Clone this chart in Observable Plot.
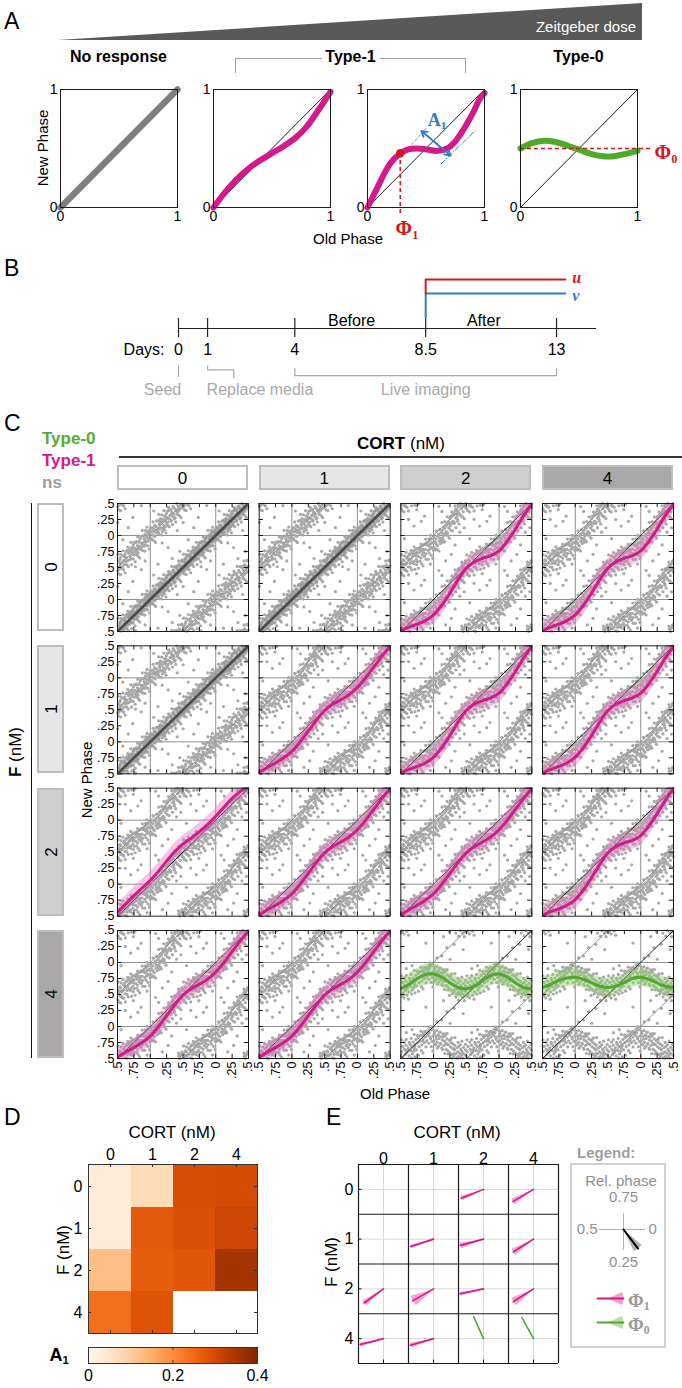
<!DOCTYPE html>
<html>
<head>
<meta charset="utf-8">
<script src="https://cdn.jsdelivr.net/npm/d3@7"></script>
<script src="https://cdn.jsdelivr.net/npm/@observablehq/plot@0.6"></script>
<style>
  html, body { margin: 0; padding: 0; background: #fff; }
  #root { position: relative; width: 682px; height: 1388px; overflow: hidden; font-family: 'Liberation Sans', Arial, Helvetica, sans-serif; color: #000; background: #fff; }
  #root > svg { position: absolute; overflow: visible; }
  .t { position: absolute; white-space: nowrap; line-height: 1; }
  .t sub { font-size: 0.62em; vertical-align: -0.3em; line-height: 0; }
</style>
</head>
<body>
<div id="root"></div>
<script>
// ================= DATA =================
// ---- Panel A (schematic phase transition curves) ----
const aDose = [0, 1];
const aAxisTicks = [0, 1];
const aIdentity = [[0, 0], [1, 1]];
const aNoResponse = [[0, 0], [1, 1]];
const aType1Weak = [[0,0],[0.1,0.13],[0.2,0.24],[0.3,0.33],[0.4,0.4],[0.5,0.46],[0.6,0.52],[0.7,0.59],[0.8,0.69],[0.9,0.83],[1,0.98]];
const aType1Strong = [[0,0],[0.05,0.1],[0.1,0.2],[0.15,0.3],[0.2,0.38],[0.27,0.45],[0.34,0.49],[0.42,0.5],[0.52,0.49],[0.6,0.48],[0.68,0.5],[0.75,0.56],[0.82,0.66],[0.9,0.8],[0.96,0.92],[1,0.97]];
const aType0 = [[0,0.5],[0.1,0.545],[0.2,0.565],[0.3,0.555],[0.4,0.525],[0.5,0.49],[0.6,0.455],[0.7,0.435],[0.8,0.435],[0.9,0.455],[1,0.48]];
const aPhi1 = [0.28, 0.46];
const aPhi0 = 0.5;
const aA1Arrow = [[0.46, 0.65], [0.71, 0.44]];
const aA1Upper = [[0.32, 0.47], [0.5, 0.67]];
const aA1Lower = [[0.63, 0.37], [0.92, 0.65]];

// ---- Panel B (protocol timeline, days) ----
const bDays = [0, 1, 4, 8.5, 13];
const bTreatment = {start: 8.5, end: 13.3};
const bStages = [{label: "Before", at: 5.95}, {label: "After", at: 10.5}];
const bEvents = [{label: "Seed", from: 0, to: 0}, {label: "Replace media", from: 1, to: 1.9}, {label: "Live imaging", from: 4, to: 13}];

// ---- Panel C (phase transition scatter, old vs new phase) ----
const cCort = [0, 1, 2, 4];
const cF = [0, 1, 2, 4];
const cType = [
  ["ns", "ns", "type1", "type1"],
  ["ns", "type1", "type1", "type1"],
  ["type1", "type1", "type1", "type1"],
  ["type1", "type1", "type0", "type0"]
];
const cFitName = [
  ["ns", "ns", "t1Strong", "t1Strong"],
  ["ns", "t1Medium", "t1Strong", "t1Strong"],
  ["t1Gentle", "t1Medium", "t1Medium", "t1Strong"],
  ["t1Medium", "t1Medium", "t0Wide", "t0Narrow"]
];
const cPhaseTicks = [-0.5, -0.25, 0, 0.25, 0.5, 0.75, 1, 1.25, 1.5];
const cPhaseTickLabels = [".5", ".75", "0", ".25", ".5", ".75", "0", ".25", ".5"];
const cGrid = [0, 1];
const cWraps = [-1, 0, 1];
// fitted curves: [old phase, new phase, half band width]
const cFitNs = [[-0.5,-0.5,0.13],[0,0,0.13],[0.5,0.5,0.13],[1,1,0.13],[1.5,1.5,0.13]];
const cFitT1Strong = [[-0.5,-0.49,0.14],[-0.375,-0.43,0.14],[-0.25,-0.385,0.14],[-0.125,-0.33,0.14],[0,-0.24,0.15],[0.125,-0.09,0.15],[0.25,0.1,0.15],[0.375,0.31,0.15],[0.5,0.49,0.14],[0.625,0.59,0.14],[0.75,0.645,0.14],[0.875,0.685,0.14],[1,0.76,0.15],[1.125,0.91,0.15],[1.25,1.1,0.15],[1.375,1.31,0.15],[1.5,1.49,0.14]];
const cFitT1Medium = [[-0.5,-0.48,0.14],[-0.375,-0.4,0.14],[-0.25,-0.33,0.14],[-0.125,-0.25,0.14],[0,-0.15,0.14],[0.125,0,0.14],[0.25,0.17,0.14],[0.375,0.34,0.14],[0.5,0.49,0.14],[0.625,0.59,0.14],[0.75,0.66,0.14],[0.875,0.74,0.14],[1,0.85,0.14],[1.125,1,0.14],[1.25,1.17,0.14],[1.375,1.34,0.14],[1.5,1.49,0.14]];
const cFitT1Gentle = [[-0.5,-0.44,0.13],[-0.375,-0.31,0.13],[-0.25,-0.18,0.13],[-0.125,-0.06,0.13],[0,0.06,0.13],[0.125,0.2,0.13],[0.25,0.36,0.13],[0.375,0.51,0.13],[0.5,0.63,0.13],[0.625,0.72,0.13],[0.75,0.82,0.13],[0.875,0.93,0.13],[1,1.06,0.13],[1.125,1.2,0.13],[1.25,1.34,0.13],[1.375,1.45,0.13],[1.5,1.52,0.13]];
const cFitT0Wide = [[-0.5,0.59,0.16],[-0.375,0.66,0.16],[-0.25,0.75,0.16],[-0.125,0.81,0.16],[0,0.82,0.16],[0.125,0.77,0.16],[0.25,0.68,0.16],[0.375,0.61,0.16],[0.5,0.59,0.16],[0.625,0.63,0.16],[0.75,0.72,0.16],[0.875,0.8,0.16],[1,0.82,0.16],[1.125,0.77,0.16],[1.25,0.68,0.16],[1.375,0.61,0.16],[1.5,0.59,0.16]];
const cFitT0Narrow = [[-0.5,0.61,0.14],[-0.375,0.66,0.14],[-0.25,0.72,0.14],[-0.125,0.76,0.14],[0,0.77,0.14],[0.125,0.74,0.14],[0.25,0.68,0.14],[0.375,0.63,0.14],[0.5,0.61,0.14],[0.625,0.63,0.14],[0.75,0.69,0.14],[0.875,0.75,0.14],[1,0.77,0.14],[1.125,0.74,0.14],[1.25,0.68,0.14],[1.375,0.63,0.14],[1.5,0.61,0.14]];
// single-cell observations [old phase, new phase] within one cycle (core cloud + wider scatter)
const cPointsNs = [[0.013,0.062],[0.021,0.952],[0.034,0.118],[0.048,0.003],[0.052,0.071],[0.067,0.158],[0.071,0.984],[0.088,0.041],[0.094,0.137],[0.103,0.085],
[0.117,0.232],[0.124,0.049],[0.139,0.171],[0.142,0.102],[0.156,0.263],[0.163,0.121],[0.178,0.208],[0.185,0.064],[0.197,0.247],[0.204,0.159],
[0.216,0.302],[0.228,0.133],[0.231,0.224],[0.245,0.341],[0.252,0.188],[0.266,0.275],[0.273,0.211],[0.284,0.392],[0.297,0.258],[0.303,0.318],
[0.318,0.403],[0.322,0.226],[0.335,0.352],[0.347,0.297],[0.351,0.455],[0.364,0.331],[0.376,0.418],[0.382,0.276],[0.395,0.384],[0.402,0.497],
[0.415,0.352],[0.423,0.459],[0.436,0.391],[0.441,0.541],[0.458,0.417],[0.462,0.486],[0.477,0.602],[0.483,0.433],[0.496,0.521],[0.504,0.448],
[0.517,0.588],[0.526,0.471],[0.538,0.553],[0.544,0.652],[0.559,0.506],[0.563,0.577],[0.578,0.519],[0.585,0.683],[0.597,0.611],[0.606,0.548],
[0.613,0.704],[0.627,0.592],[0.634,0.658],[0.648,0.763],[0.652,0.604],[0.669,0.722],[0.671,0.617],[0.686,0.751],[0.693,0.672],[0.708,0.806],
[0.714,0.641],[0.729,0.773],[0.736,0.705],[0.742,0.858],[0.757,0.697],[0.763,0.802],[0.778,0.741],[0.784,0.903],[0.799,0.768],[0.805,0.842],
[0.816,0.729],[0.829,0.911],[0.833,0.806],[0.847,0.953],[0.852,0.782],[0.868,0.884],[0.874,0.826],[0.887,0.991],[0.893,0.857],[0.906,0.944],
[0.912,0.835],[0.925,0.027],[0.938,0.902],[0.943,0.978],[0.957,0.061],[0.962,0.913],[0.976,0.016],[0.983,0.944],[0.991,0.083],[0.997,0.969],
[0.061,0.093],[0.146,0.197],[0.238,0.262],[0.329,0.366],[0.427,0.404],[0.532,0.511],[0.621,0.648],[0.719,0.733],[0.811,0.795],[0.918,0.901],
[0.118,0.552],[0.273,0.812],[0.412,0.078],[0.581,0.934],[0.734,0.283],[0.862,0.467],[0.052,0.383],[0.338,0.641],[0.664,0.122],[0.921,0.603],[0.183,0.884],[0.503,0.204],[0.452,0.752],[0.775,0.512]];
const cPointsNsWide = [[0.009,0.119],[0.027,0.937],[0.043,0.213],[0.058,0.918],[0.076,0.146],[0.082,0.892],[0.097,0.227],[0.111,0.061],[0.129,0.329],[0.135,0.015],
[0.151,0.241],[0.169,0.009],[0.174,0.324],[0.192,0.112],[0.208,0.388],[0.219,0.089],[0.236,0.296],[0.241,0.041],[0.258,0.378],[0.262,0.162],
[0.279,0.439],[0.288,0.138],[0.306,0.406],[0.313,0.243],[0.327,0.517],[0.339,0.169],[0.356,0.436],[0.368,0.258],[0.373,0.513],[0.389,0.209],
[0.407,0.517],[0.418,0.328],[0.432,0.602],[0.447,0.307],[0.453,0.523],[0.469,0.279],[0.486,0.616],[0.492,0.442],[0.508,0.708],[0.521,0.401],
[0.536,0.626],[0.548,0.388],[0.553,0.703],[0.567,0.487],[0.582,0.762],[0.594,0.464],[0.608,0.668],[0.618,0.418],[0.631,0.751],[0.643,0.543],
[0.657,0.817],[0.664,0.514],[0.681,0.781],[0.697,0.627],[0.703,0.893],[0.716,0.546],[0.733,0.813],[0.741,0.631],[0.752,0.892],[0.769,0.589],
[0.781,0.891],[0.792,0.702],[0.808,0.978],[0.815,0.675],[0.826,0.896],[0.839,0.649],[0.856,0.986],[0.863,0.813],[0.879,0.079],[0.884,0.764],
[0.903,0.993],[0.917,0.757],[0.929,0.079],[0.934,0.854],[0.951,0.131],[0.966,0.836],[0.978,0.038],[0.989,0.789]];
const cPointsT1 = [[0.008,0.812],[0.017,0.903],[0.026,0.774],[0.039,0.945],[0.044,0.861],[0.058,0.992],[0.063,0.838],[0.079,0.021],[0.085,0.912],[0.092,0.963],
[0.106,0.874],[0.113,0.046],[0.128,0.957],[0.134,0.081],[0.147,0.993],[0.151,0.928],[0.166,0.112],[0.172,0.027],[0.187,0.148],[0.193,0.061],
[0.205,0.172],[0.214,0.042],[0.226,0.213],[0.233,0.118],[0.248,0.264],[0.255,0.151],[0.262,0.297],[0.279,0.192],[0.286,0.318],[0.294,0.224],
[0.307,0.331],[0.315,0.208],[0.329,0.382],[0.336,0.276],[0.341,0.412],[0.358,0.301],[0.363,0.254],[0.374,0.447],[0.386,0.352],[0.398,0.468],
[0.404,0.327],[0.417,0.493],[0.422,0.418],[0.435,0.536],[0.446,0.451],[0.453,0.372],[0.461,0.548],[0.478,0.462],[0.485,0.577],[0.492,0.497],
[0.507,0.418],[0.514,0.563],[0.523,0.508],[0.537,0.621],[0.546,0.472],[0.551,0.604],[0.565,0.539],[0.572,0.458],[0.588,0.651],[0.593,0.566],
[0.608,0.677],[0.616,0.512],[0.624,0.608],[0.639,0.703],[0.645,0.563],[0.657,0.634],[0.668,0.741],[0.676,0.585],[0.683,0.672],[0.699,0.759],
[0.704,0.597],[0.718,0.693],[0.727,0.782],[0.735,0.628],[0.748,0.717],[0.753,0.592],[0.769,0.796],[0.774,0.671],[0.786,0.738],[0.795,0.823],
[0.806,0.648],[0.813,0.762],[0.827,0.701],[0.832,0.847],[0.845,0.734],[0.858,0.672],[0.864,0.868],[0.876,0.783],[0.883,0.718],[0.897,0.852],
[0.904,0.891],[0.918,0.764],[0.923,0.838],[0.936,0.922],[0.945,0.791],[0.953,0.873],[0.967,0.946],[0.972,0.812],[0.984,0.884],[0.996,0.768],
[0.031,0.884],[0.142,0.027],[0.241,0.186],[0.352,0.337],[0.447,0.487],[0.538,0.551],[0.647,0.621],[0.738,0.681],[0.846,0.778],[0.942,0.836],
[0.082,0.453],[0.184,0.602],[0.327,0.853],[0.468,0.121],[0.618,0.251],[0.742,0.403],[0.861,0.302],[0.951,0.553],[0.272,0.704],[0.553,0.951],[0.401,0.052],[0.702,0.148],[0.128,0.376],[0.812,0.221]];
const cPointsT1Wide = [[0.009,0.971],[0.043,0.072],[0.076,0.011],[0.097,0.096],[0.129,0.205],[0.151,0.125],[0.174,0.217],[0.208,0.293],[0.236,0.211],[0.258,0.301],
[0.279,0.369],[0.306,0.346],[0.327,0.465],[0.356,0.394],[0.373,0.477],[0.407,0.494],[0.432,0.583],[0.453,0.501],[0.486,0.603],[0.508,0.696],
[0.536,0.609],[0.553,0.682],[0.582,0.736],[0.608,0.636],[0.631,0.713],[0.657,0.767],[0.681,0.721],[0.703,0.824],[0.733,0.73],[0.752,0.801],
[0.781,0.79],[0.808,0.867],[0.826,0.779],[0.856,0.857],[0.879,0.944],[0.903,0.86],[0.929,0.949],[0.951,0.003],[0.978,0.891],
[0.027,0.792],[0.058,0.779],[0.082,0.758],[0.111,0.933],[0.135,0.894],[0.169,0.901],[0.192,0.011],[0.219,0.998],[0.241,0.958],[0.262,0.086],
[0.288,0.072],[0.313,0.188],[0.339,0.123],[0.368,0.223],[0.389,0.18],[0.418,0.308],[0.447,0.286],[0.469,0.262],[0.492,0.431],[0.521,0.387],
[0.548,0.368],[0.567,0.464],[0.594,0.441],[0.618,0.384],[0.643,0.503],[0.664,0.464],[0.697,0.562],[0.716,0.471],[0.741,0.545],[0.769,0.491],
[0.792,0.598],[0.815,0.561],[0.839,0.526],[0.863,0.682],[0.884,0.628],[0.917,0.627],[0.934,0.725],[0.966,0.69],[0.989,0.64]];
const cPointsT0 = [[0.006,0.774],[0.014,0.893],[0.027,0.712],[0.035,0.846],[0.049,0.934],[0.056,0.752],[0.068,0.867],[0.077,0.693],[0.083,0.811],[0.098,0.912],
[0.104,0.736],[0.119,0.842],[0.126,0.664],[0.133,0.791],[0.148,0.887],[0.157,0.703],[0.164,0.771],[0.176,0.852],[0.189,0.642],[0.195,0.738],
[0.207,0.806],[0.218,0.621],[0.224,0.716],[0.239,0.782],[0.246,0.587],[0.258,0.682],[0.267,0.749],[0.275,0.563],[0.289,0.659],[0.296,0.728],
[0.308,0.541],[0.317,0.634],[0.325,0.706],[0.339,0.574],[0.348,0.512],[0.356,0.668],[0.367,0.603],[0.379,0.532],[0.385,0.688],[0.394,0.584],
[0.408,0.496],[0.416,0.642],[0.427,0.553],[0.433,0.617],[0.449,0.508],[0.457,0.674],[0.466,0.572],[0.474,0.482],[0.488,0.636],[0.495,0.547],
[0.512,0.608],[0.526,0.689],[0.534,0.514],[0.557,0.646],[0.568,0.563],[0.579,0.708],[0.596,0.594],[0.613,0.667],[0.624,0.541],[0.638,0.726],
[0.651,0.622],[0.664,0.693],[0.677,0.571],[0.689,0.758],[0.703,0.653],[0.716,0.717],[0.728,0.798],[0.739,0.636],[0.757,0.744],[0.768,0.827],
[0.779,0.684],[0.796,0.771],[0.808,0.866],[0.821,0.712],[0.838,0.803],[0.847,0.892],[0.859,0.748],[0.876,0.834],[0.887,0.923],[0.898,0.776],
[0.914,0.864],[0.927,0.738],[0.936,0.903],[0.955,0.808],[0.967,0.948],[0.979,0.767],[0.992,0.853],
[0.043,0.803],[0.186,0.724],[0.314,0.647],[0.443,0.584],[0.582,0.612],[0.712,0.694],[0.836,0.774],[0.948,0.836],
[0.051,0.072],[0.124,0.103],[0.203,0.232],[0.313,0.284],[0.384,0.412],[0.521,0.493],[0.604,0.632],[0.712,0.687],[0.831,0.862],[0.909,0.884],
[0.152,0.403],[0.451,0.202],[0.672,0.951],[0.882,0.303],[0.253,0.051],[0.583,0.904]];
const cPointsT0Wide = [[0.009,0.93],[0.027,0.72],[0.058,0.66],[0.076,0.86],[0.097,0.91],[0.111,0.725],[0.135,0.643],[0.151,0.841],[0.169,0.578],[0.174,0.885],
[0.208,0.89],[0.219,0.572],[0.241,0.486],[0.258,0.796],[0.279,0.824],[0.288,0.509],[0.313,0.575],[0.327,0.827],[0.339,0.46],[0.368,0.504],
[0.373,0.751],[0.407,0.715],[0.418,0.513],[0.432,0.771],[0.447,0.458],[0.469,0.404],[0.486,0.722],[0.508,0.792],[0.521,0.477],[0.548,0.445],
[0.553,0.757],[0.582,0.796],[0.594,0.49],[0.618,0.427],[0.631,0.754],[0.657,0.813],[0.664,0.508],[0.697,0.612],[0.703,0.876],[0.716,0.526],
[0.752,0.861],[0.769,0.552],[0.781,0.85],[0.808,0.927],[0.815,0.622],[0.839,0.587],[0.856,0.918],[0.884,0.681],[0.903,0.895],[0.929,0.96],
[0.951,0.993],[0.966,0.685],[0.989,0.618]];

// ---- Panel D (A1 amplitude heatmap; rows F, columns CORT) ----
const dA1 = [
  [0.03, 0.075, 0.295, 0.30],
  [0.03, 0.275, 0.29, 0.31],
  [0.125, 0.27, 0.28, 0.355],
  [0.24, 0.285, null, null]
];
const dColorTicks = [0, 0.2, 0.4];

// ---- Panel E (relative phase Φ1 / Φ0 and its spread, degrees) ----
const ePhase = [
  [null, null, 0.44, 0.415],
  [null, 0.45, 0.458, 0.41],
  [0.40, 0.417, 0.467, 0.41],
  [0.46, 0.456, 0.683, 0.67]
];
const eSpread = [
  [null, null, 6, 8],
  [null, 5, 7, 9],
  [8, 13, 5, 11],
  [5, 6, 1, 1]
];
const eLegendPhases = [0, 0.25, 0.5, 0.75];
const eLegendLabels = ["0", "0.25", "0.5", "0.75"];
const eLegendExample = {phase: 0.146, spread: 12};

// ================= RENDER =================
const root = document.getElementById("root");
const FONT = "'Liberation Sans', Arial, Helvetica, sans-serif";
const SERIF = "'Liberation Serif', 'Times New Roman', serif";
const MAGENTA = "#d4198b", GREEN = "#4dab29", RED = "#d4171c", BLUE = "#2f7dc0", GRAYTXT = "#9e9e9e";
const baseStyle = {background: "transparent", overflow: "visible", fontFamily: FONT, color: "#000"};
const xy = {x: d => d[0], y: d => d[1]};

function place(node, left, top) { node.style.position = "absolute"; node.style.left = left + "px"; node.style.top = top + "px"; root.appendChild(node); return node; }
function label(html, x, y, o = {}) {
  const d = document.createElement("div");
  d.className = "t";
  d.innerHTML = html;
  d.style.fontSize = (o.size || 16) + "px";
  if (o.bold) d.style.fontWeight = "bold";
  if (o.italic) d.style.fontStyle = "italic";
  if (o.color) d.style.color = o.color;
  if (o.family) d.style.fontFamily = o.family;
  if (o.bg) { d.style.background = o.bg; d.style.padding = "0 4px"; }
  const ax = o.anchor === "start" ? "0%" : o.anchor === "end" ? "-100%" : "-50%";
  d.style.left = x + "px"; d.style.top = y + "px";
  d.style.transform = `translate(${ax}, -50%)` + (o.rotate ? ` rotate(${o.rotate}deg)` : "");
  root.appendChild(d);
  return d;
}
function box(left, top, w, h, css) {
  const d = document.createElement("div");
  d.style.cssText = `position:absolute;box-sizing:border-box;left:${left}px;top:${top}px;width:${w}px;height:${h}px;` + css;
  root.appendChild(d); return d;
}

// ---------- Panel A ----------
label("A", 4, 21, {size: 23, anchor: "start"});
place(Plot.plot({
  width: 682, height: 44, marginLeft: 58, marginRight: 40, marginTop: 3, marginBottom: 4,
  x: {domain: [0, 1], axis: null}, y: {domain: [0, 1], axis: null},
  style: baseStyle,
  marks: [Plot.areaY(aDose, {x: d => d, y: d => d, fill: "#595959"})]
}), 0, 0);
label("Zeitgeber dose", 636, 26, {size: 15, color: "#fff", anchor: "end"});

const A = {top: 89, w: 117, h: 118, lefts: [60, 213, 367, 520], ml: 22, mr: 34, mt: 6, mb: 24};
function panelA(i, marks) {
  const svg = Plot.plot({
    width: A.w + A.ml + A.mr, height: A.h + A.mt + A.mb,
    marginLeft: A.ml, marginRight: A.mr, marginTop: A.mt, marginBottom: A.mb,
    x: {domain: [0, 1]}, y: {domain: [0, 1]},
    style: {...baseStyle, fontSize: "14px"},
    marks: [
      ...marks,
      Plot.frame({stroke: "#1a1a1a", strokeWidth: 1}),
      Plot.axisX(aAxisTicks, {tickSize: 0, tickPadding: 4, tickFormat: d => String(d), label: null, fontSize: 14}),
      Plot.axisY(aAxisTicks, {tickSize: 0, tickPadding: 3, tickFormat: d => String(d), label: null, fontSize: 14})
    ]
  });
  place(svg, A.lefts[i] - A.ml, A.top - A.mt);
}
panelA(0, [Plot.line(aNoResponse, {...xy, stroke: "#7f7f7f", strokeWidth: 6.5, strokeLinecap: "round"})]);
panelA(1, [Plot.line(aIdentity, {...xy, stroke: "#000", strokeWidth: 0.9}), Plot.line(aType1Weak, {...xy, stroke: MAGENTA, strokeWidth: 6, curve: "catmull-rom", strokeLinecap: "round"})]);
const aMid = [(aA1Arrow[0][0] + aA1Arrow[1][0]) / 2, (aA1Arrow[0][1] + aA1Arrow[1][1]) / 2];
panelA(2, [
  Plot.line(aIdentity, {...xy, stroke: "#000", strokeWidth: 0.9}),
  Plot.line(aA1Upper, {...xy, stroke: "#9a9a9a", strokeWidth: 1, strokeDasharray: "3,2"}),
  Plot.line(aA1Lower, {...xy, stroke: BLUE, strokeWidth: 1, strokeDasharray: "5,2,1,2"}),
  Plot.line(aType1Strong, {...xy, stroke: MAGENTA, strokeWidth: 6, curve: "catmull-rom", strokeLinecap: "round"}),
  Plot.ruleX([aPhi1], {x: d => d[0], y1: -0.05, y2: d => d[1], stroke: RED, strokeWidth: 1.6, strokeDasharray: "4,3"}),
  Plot.dot([aPhi1], {...xy, r: 4.2, fill: RED, stroke: "none"}),
  Plot.arrow(aA1Arrow, {x1: () => aMid[0], y1: () => aMid[1], x2: d => d[0], y2: d => d[1], stroke: BLUE, strokeWidth: 1.8, headLength: 7})
]);
panelA(3, [
  Plot.line(aIdentity, {...xy, stroke: "#000", strokeWidth: 0.9}),
  Plot.line(aType0, {...xy, stroke: GREEN, strokeWidth: 6, curve: "catmull-rom", strokeLinecap: "round"}),
  Plot.ruleY([aPhi0], {x1: 0, x2: 1.12, stroke: RED, strokeWidth: 1.6, strokeDasharray: "4,3"})
]);
label("No response", 118.5, 57, {size: 16, bold: true});
box(235, 58, 231, 15, "border:1px solid #a0a0a0;border-bottom:none;");
label("Type-1", 350.5, 57, {size: 16, bold: true, bg: "#fff"});
label("Type-0", 578.5, 57, {size: 16, bold: true});
label("New Phase", 42, 148, {size: 15, rotate: -90});
label("Old Phase", 348, 238, {size: 15});
label("Φ<sub>1</sub>", 407, 228, {size: 20, family: SERIF, bold: true, color: RED});
label("A<sub>1</sub>", 437, 120, {size: 18, family: SERIF, bold: true, color: BLUE});
label("Φ<sub>0</sub>", 666, 152, {size: 20, family: SERIF, bold: true, color: RED});

// ---------- Panel B ----------
label("B", 4, 268, {size: 23, anchor: "start"});
const B = {top: 262, h: 140, x0: 178, x1: 596, pxPerDay: 29.08, pxPerLevel: 9.5, axisPx: 328};
const L = {tickLo: -0.95, tickHi: 1.05, u: 5.16, v: 3.68, vStart: 1.16, stage: 0.84, day: -2.3, evTop: -3.95, evHook: -4.35, evBottom: -5.15, spanEnd: -4.2, spanLine: -4.95, evText: -6.45};
const bXmax = (B.x1 - B.x0) / B.pxPerDay;
const bYTop = (B.axisPx - B.top) / B.pxPerLevel, bYBot = (B.axisPx - B.top - B.h) / B.pxPerLevel;
const EVGRAY = "#a8a8a8";
place(Plot.plot({
  width: 682, height: B.h, marginLeft: B.x0, marginRight: 682 - B.x1, marginTop: 0, marginBottom: 0,
  x: {domain: [0, bXmax], axis: null}, y: {domain: [bYBot, bYTop], axis: null},
  style: {...baseStyle, fontSize: "16px"},
  marks: [
    Plot.ruleY([0], {stroke: "#222", strokeWidth: 1.2}),
    Plot.ruleX(bDays, {y1: L.tickLo, y2: L.tickHi, stroke: "#222", strokeWidth: 1.2}),
    Plot.text(bDays, {x: d => d, y: L.day, text: d => String(d), fontSize: 16}),
    Plot.text(["Days:"], {x: () => bDays[0], y: L.day, dx: -14, text: d => d, textAnchor: "end", fontSize: 16}),
    Plot.text(bStages, {x: "at", y: L.stage, text: "label", fontSize: 16}),
    Plot.line([[bTreatment.start, L.vStart], [bTreatment.start, L.v], [bTreatment.end, L.v]], {...xy, stroke: BLUE, strokeWidth: 2}),
    Plot.line([[bTreatment.start, L.v], [bTreatment.start, L.u], [bTreatment.end, L.u]], {...xy, stroke: RED, strokeWidth: 2}),
    Plot.text([bTreatment], {x: "end", y: L.u, dx: 7, dy: -2, text: () => "u", textAnchor: "start", fill: RED, fontStyle: "italic", fontWeight: "bold", fontFamily: SERIF, fontSize: 16}),
    Plot.text([bTreatment], {x: "end", y: L.v, dx: 7, dy: 2, text: () => "v", textAnchor: "start", fill: BLUE, fontStyle: "italic", fontWeight: "bold", fontFamily: SERIF, fontSize: 16}),
    Plot.ruleX([bEvents[0]], {x: "from", y1: L.evTop, y2: L.evBottom, stroke: EVGRAY, strokeWidth: 1.2}),
    Plot.line([[bEvents[1].from, L.evTop], [bEvents[1].from, L.evHook], [bEvents[1].to, L.evHook], [bEvents[1].to, L.evBottom]], {...xy, stroke: EVGRAY, strokeWidth: 1.2}),
    Plot.line([[bEvents[2].from, L.spanEnd], [bEvents[2].from, L.spanLine], [bEvents[2].to, L.spanLine], [bEvents[2].to, L.spanEnd]], {...xy, stroke: EVGRAY, strokeWidth: 1.2}),
    Plot.text([bEvents[0]], {x: "from", y: L.evText, dx: -16, text: "label", fill: EVGRAY, fontSize: 16}),
    Plot.text([bEvents[1]], {x: "from", y: L.evText, dx: -1, text: "label", textAnchor: "start", fill: EVGRAY, fontSize: 16}),
    Plot.text([bEvents[2]], {x: d => (d.from + d.to) / 2, y: L.evText, text: "label", fill: EVGRAY, fontSize: 16})
  ]
}), 0, B.top);

// ---------- Panel C ----------
label("C", 4, 423, {size: 23, anchor: "start"});
label("Type-0", 42, 438, {size: 17, bold: true, color: "#52ae32", anchor: "start"});
label("Type-1", 42, 460, {size: 17, bold: true, color: MAGENTA, anchor: "start"});
label("ns", 42, 482, {size: 17, bold: true, color: GRAYTXT, anchor: "start"});
label("<b>CORT</b> (nM)", 401, 443, {size: 17});
box(119, 456, 563, 1.5, "background:#333;");

const C = {top: 495, h: 610, ml: 117, mr: 9, mt: 8, mb: 47, padX: 0.0753, padY: 0.1007};
const cLevelFill = ["#ffffff", "#e6e6e6", "#cfcfcf", "#a9a7a7"];
const cFits = {ns: cFitNs, t1Strong: cFitT1Strong, t1Medium: cFitT1Medium, t1Gentle: cFitT1Gentle, t0Wide: cFitT0Wide, t0Narrow: cFitT0Narrow};
const cBase = {ns: cPointsNs.concat(cPointsNsWide), type1: cPointsT1.concat(cPointsT1Wide), type0: cPointsT0.concat(cPointsT0Wide)};
const cCells = cF.flatMap((f, r) => cCort.map((c, k) => ({F: f, cort: c, type: cType[r][k], fit: cFitName[r][k]})));
const cDots = [];
for (const cell of cCells) for (const [o, n] of cBase[cell.type]) for (const sx of cWraps) for (const sy of cWraps) {
  const x = o + sx, y = n + sy;
  if (x >= -0.5 && x <= 1.5 && y >= -0.5 && y <= 1.5) cDots.push({F: cell.F, cort: cell.cort, x, y});
}
const cFitRows = cCells.flatMap(cell => cFits[cell.fit].map(([x, y, h]) => ({F: cell.F, cort: cell.cort, type: cell.type, x, y, lo: y - h, hi: y + h})));
const byType = t => cFitRows.filter(d => d.type === t);
const fxfy = {fx: "cort", fy: "F"};
const phaseLabel = d => cPhaseTickLabels[cPhaseTicks.indexOf(d)];
const tlx = 0.065, tly = 0.065;
const cDiag = cWraps.map(w => [[-0.5, -0.5 + w], [1.5, 1.5 + w]]);
place(Plot.plot({
  width: 682, height: C.h, marginLeft: C.ml, marginRight: C.mr, marginTop: C.mt, marginBottom: C.mb,
  fx: {domain: cCort, paddingInner: C.padX, paddingOuter: 0, axis: null, label: null, round: false},
  fy: {domain: cF, paddingInner: C.padY, paddingOuter: 0, axis: null, label: null, round: false},
  x: {domain: [-0.5, 1.5]}, y: {domain: [-0.5, 1.5]},
  style: {...baseStyle, fontSize: "12.5px"},
  marks: [
    Plot.ruleX(cGrid, {stroke: "#8f8f8f", strokeWidth: 1}),
    Plot.ruleY(cGrid, {stroke: "#8f8f8f", strokeWidth: 1}),
    Plot.dot(cDots, {x: "x", y: "y", ...fxfy, r: 1.6, fill: "#a8a8a8", stroke: "none"}),
    Plot.line(cDiag[1], {...xy, stroke: "#111", strokeWidth: 0.9, clip: true}),
    Plot.line(cDiag[0], {...xy, stroke: "#8a8a8a", strokeWidth: 0.9, clip: true}),
    Plot.line(cDiag[2], {...xy, stroke: "#8a8a8a", strokeWidth: 0.9, clip: true}),
    Plot.areaY(byType("ns"), {x: "x", y1: "lo", y2: "hi", ...fxfy, fill: "#8c8c8c", fillOpacity: 0.4, curve: "catmull-rom", clip: true}),
    Plot.areaY(byType("type1"), {x: "x", y1: "lo", y2: "hi", ...fxfy, fill: "#e277bd", fillOpacity: 0.42, curve: "catmull-rom", clip: true}),
    Plot.areaY(byType("type0"), {x: "x", y1: "lo", y2: "hi", ...fxfy, fill: "#8fd16b", fillOpacity: 0.45, curve: "catmull-rom", clip: true}),
    Plot.line(byType("ns"), {x: "x", y: "y", ...fxfy, stroke: "#4a4a4a", strokeWidth: 2.6, clip: true}),
    Plot.line(byType("type1"), {x: "x", y: "y", ...fxfy, stroke: MAGENTA, strokeWidth: 3, curve: "catmull-rom", clip: true}),
    Plot.line(byType("type0"), {x: "x", y: "y", ...fxfy, stroke: GREEN, strokeWidth: 3, curve: "catmull-rom", clip: true}),
    Plot.frame({stroke: "#1a1a1a"}),
    Plot.ruleX(cPhaseTicks, {y1: -0.5, y2: -0.5 + tly, stroke: "#1a1a1a"}),
    Plot.ruleX(cPhaseTicks, {y1: 1.5 - tly, y2: 1.5, stroke: "#1a1a1a"}),
    Plot.ruleY(cPhaseTicks, {x1: -0.5, x2: -0.5 + tlx, stroke: "#1a1a1a"}),
    Plot.ruleY(cPhaseTicks, {x1: 1.5 - tlx, x2: 1.5, stroke: "#1a1a1a"}),
    Plot.axisY(cPhaseTicks, {anchor: "left", tickSize: 0, tickPadding: 3, tickFormat: phaseLabel, label: null, fontSize: 12.5}),
    Plot.axisX(cPhaseTicks, {anchor: "bottom", tickSize: 0, tickPadding: 3, tickRotate: -90, tickFormat: phaseLabel, label: null, fontSize: 12.5})
  ]
}), 0, C.top);
const cStepX = (682 - C.ml - C.mr) / (cCort.length - C.padX), cBandX = cStepX * (1 - C.padX);
const cStepY = (C.h - C.mt - C.mb) / (cF.length - C.padY), cBandY = cStepY * (1 - C.padY);
cCort.forEach((c, k) => {
  const x = C.ml + k * cStepX;
  box(x, 465, cBandX, 25, `background:${cLevelFill[k]};border:2px solid #bdbdbd;`);
  label(String(c), x + cBandX / 2, 478, {size: 17});
});
cF.forEach((f, r) => {
  const y = C.top + C.mt + r * cStepY;
  box(37, y, 27, cBandY, `background:${cLevelFill[r]};border:2px solid #bdbdbd;`);
  label(String(f), 50.5, y + cBandY / 2, {size: 17, rotate: -90});
});
box(31, C.top + C.mt, 1.2, C.h - C.mt - C.mb, "background:#111;");
label("<b>F</b> (nM)", 15, 752, {size: 17, rotate: -90});
label("New Phase", 86, 780, {size: 15, rotate: -90});
label("Old Phase", 395, 1093, {size: 15});

// ---------- Panel D ----------
label("D", 4, 1117, {size: 23, anchor: "start"});
label("CORT (nM)", 172, 1132, {size: 17});
label("F (nM)", 63, 1250, {size: 17, rotate: -90});
const D = {top: 1100, ml: 88, mt: 64, w: 169, h: 169, mr: 15, mb: 8};
const colorA1 = {type: "linear", scheme: "oranges", domain: [0, 0.4]};
const dCells = cF.flatMap((f, r) => cCort.map((c, k) => ({F: f, cort: c, value: dA1[r][k]}))).filter(d => d.value != null);
place(Plot.plot({
  width: D.ml + D.w + D.mr, height: D.mt + D.h + D.mb,
  marginLeft: D.ml, marginRight: D.mr, marginTop: D.mt, marginBottom: D.mb,
  x: {type: "band", domain: cCort, padding: 0}, y: {type: "band", domain: cF, padding: 0},
  color: colorA1,
  style: {...baseStyle, fontSize: "16px"},
  marks: [
    Plot.cell(dCells, {x: "cort", y: "F", fill: "value"}),
    Plot.frame({stroke: "#333"}),
    Plot.tickX(cCort, {x: d => d, insetBottom: D.h - 3, stroke: "#333"}),
    Plot.tickX(cCort, {x: d => d, insetTop: D.h - 3, stroke: "#333"}),
    Plot.tickY(cF, {y: d => d, insetRight: D.w - 3, stroke: "#333"}),
    Plot.tickY(cF, {y: d => d, insetLeft: D.w - 3, stroke: "#333"}),
    Plot.axisX({anchor: "top", tickSize: 0, tickPadding: 5, label: null, fontSize: 16}),
    Plot.axisY({anchor: "left", tickSize: 0, tickPadding: 6, label: null, fontSize: 16})
  ]
}), 0, D.top);
const dRamp = d3.range(0, 0.4, 0.002);
place(Plot.plot({
  width: D.ml + D.w + D.mr, height: 59, marginLeft: D.ml, marginRight: D.mr, marginTop: 7, marginBottom: 36,
  x: {domain: [0, 0.4]}, y: {domain: [0, 1], axis: null}, color: colorA1,
  style: {...baseStyle, fontSize: "16px"},
  marks: [
    Plot.rect(dRamp, {x1: d => d, x2: d => Math.min(0.4, d + 0.004), y1: 0, y2: 1, fill: d => d}),
    Plot.frame({stroke: "#333"}),
    Plot.tickX(dColorTicks.slice(1, -1), {insetBottom: 13, stroke: "#333"}),
    Plot.tickX(dColorTicks.slice(1, -1), {insetTop: 13, stroke: "#333"}),
    Plot.axisX(dColorTicks, {tickSize: 0, tickPadding: 6, tickFormat: d => String(d), label: null, fontSize: 16})
  ]
}), 0, 1340);
label("A<sub>1</sub>", 59, 1355, {size: 18, bold: true});

// ---------- Panel E ----------
label("E", 326, 1117, {size: 23, anchor: "start"});
label("CORT (nM)", 457, 1132, {size: 17});
label("F (nM)", 331, 1262, {size: 17, rotate: -90});
const E = {left: 330, top: 1100, ml: 28, mt: 64, w: 200, h: 199, mr: 10, mb: 8, len: 24};
const eCells = [];
cF.forEach((f, r) => cCort.forEach((c, k) => {
  if (ePhase[r][k] != null) eCells.push({row: r, col: k, phase: ePhase[r][k], spread: eSpread[r][k], type: cType[r][k]});
}));
const wedge = s => ({draw(ctx, l) {
  const a = s * Math.PI / 180;
  ctx.moveTo(0, 0); ctx.lineTo(-l * Math.sin(a), -l * Math.cos(a));
  ctx.arc(0, 0, l, -Math.PI / 2 - a, -Math.PI / 2 + a); ctx.closePath();
}});
const stick = {draw(ctx, l) { ctx.moveTo(0, 0); ctx.lineTo(0, -l); }};
const eCenters = cCort.map((d, i) => i + 0.5);
const eBorders = cCort.map((d, i) => i).concat([cCort.length]);
const eRot = d => 90 + 360 * d.phase;
place(Plot.plot({
  width: E.ml + E.w + E.mr, height: E.mt + E.h + E.mb,
  marginLeft: E.ml, marginRight: E.mr, marginTop: E.mt, marginBottom: E.mb,
  x: {domain: [0, cCort.length], axis: null}, y: {domain: [cF.length, 0], axis: null},
  style: {...baseStyle, fontSize: "16px"},
  marks: [
    Plot.ruleX(eCenters, {stroke: "#d9d9d9"}),
    Plot.ruleY(eCenters, {stroke: "#d9d9d9"}),
    ...eCells.map(d => Plot.vector([d], {x: d => d.col + 0.5, y: d => d.row + 0.5, rotate: eRot, length: E.len, anchor: "start",
      shape: wedge(d.spread), fill: d.type === "type0" ? GREEN : MAGENTA, fillOpacity: 0.38, stroke: "none"})),
    Plot.vector(eCells.filter(d => d.type === "type1"), {x: d => d.col + 0.5, y: d => d.row + 0.5, rotate: eRot, length: E.len, anchor: "start", shape: stick, stroke: MAGENTA, strokeWidth: 1.6}),
    Plot.vector(eCells.filter(d => d.type === "type0"), {x: d => d.col + 0.5, y: d => d.row + 0.5, rotate: eRot, length: E.len, anchor: "start", shape: stick, stroke: GREEN, strokeWidth: 1.6}),
    Plot.ruleX(eBorders, {stroke: "#1a1a1a", strokeWidth: 1.2}),
    Plot.ruleY(eBorders, {stroke: "#1a1a1a", strokeWidth: 1.2}),
    Plot.ruleX(eCenters, {y1: cF.length, y2: cF.length - 0.07, stroke: "#1a1a1a"}),
    Plot.ruleY(eCenters, {x1: 0, x2: 0.07, stroke: "#1a1a1a"}),
    Plot.text(cCort, {x: (d, i) => i + 0.5, frameAnchor: "top", dy: -12, text: d => String(d), fontSize: 16}),
    Plot.text(cF, {y: (d, i) => i + 0.5, frameAnchor: "left", dx: -5, textAnchor: "end", text: d => String(d), fontSize: 16})
  ]
}), E.left, E.top);

// legend
label("Legend:", 577, 1152, {size: 15, bold: true, color: GRAYTXT, anchor: "start"});
box(570, 1163, 96, 185, "border:2px solid #d0d0d0;");
label("Rel. phase", 621, 1180, {size: 15, color: "#8f8f8f"});
const LG = {left: 570, top: 1163, w: 96, h: 185, cx: 53, cy: 66, unit: 20};
const polar = (p, r) => [r * Math.cos(2 * Math.PI * p), r * Math.sin(2 * Math.PI * p)];
place(Plot.plot({
  width: LG.w, height: LG.h, marginLeft: 0, marginRight: 0, marginTop: 0, marginBottom: 0,
  x: {domain: [-1, 1], range: [LG.cx - LG.unit, LG.cx + LG.unit], axis: null},
  y: {domain: [-1, 1], range: [LG.cy - LG.unit, LG.cy + LG.unit], axis: null},
  style: {...baseStyle, fontSize: "15px"},
  marks: [
    Plot.ruleY([0], {x1: -1.2, x2: 1.1, stroke: "#b3b3b3"}),
    Plot.ruleX([0], {y1: -0.8, y2: 1.05, stroke: "#b3b3b3"}),
    Plot.text(eLegendPhases.filter(p => p === 0.25 || p === 0.75), {x: p => polar(p, 1.62)[0], y: p => polar(p, 1.62)[1], text: p => eLegendLabels[eLegendPhases.indexOf(p)], fill: "#8f8f8f", fontSize: 15}),
    Plot.text(eLegendPhases.filter(p => p === 0.5), {x: p => polar(p, 1.3)[0], y: p => polar(p, 1.3)[1], text: p => eLegendLabels[eLegendPhases.indexOf(p)], textAnchor: "end", fill: "#8f8f8f", fontSize: 15}),
    Plot.text(eLegendPhases.filter(p => p === 0), {x: p => polar(p, 1.25)[0], y: p => polar(p, 1.25)[1], text: p => eLegendLabels[eLegendPhases.indexOf(p)], textAnchor: "start", fill: "#8f8f8f", fontSize: 15}),
    Plot.vector([eLegendExample], {x: 0, y: 0, rotate: eRot, length: 24, anchor: "start", shape: wedge(eLegendExample.spread), fill: "#8a8a8a", fillOpacity: 0.65, stroke: "none"}),
    Plot.vector([eLegendExample], {x: 0, y: 0, rotate: eRot, length: 24, anchor: "start", shape: stick, stroke: "#000", strokeWidth: 2}),
    Plot.vector([{y: 3.45}], {x: -0.8, y: "y", rotate: 90, length: 16, anchor: "start", shape: wedge(24), fill: MAGENTA, fillOpacity: 0.4, stroke: "none"}),
    Plot.vector([{y: 3.45}], {x: -1.3, y: "y", rotate: 90, length: 26, anchor: "start", shape: stick, stroke: MAGENTA, strokeWidth: 1.8}),
    Plot.vector([{y: 4.65}], {x: -0.8, y: "y", rotate: 90, length: 16, anchor: "start", shape: wedge(24), fill: GREEN, fillOpacity: 0.4, stroke: "none"}),
    Plot.vector([{y: 4.65}], {x: -1.3, y: "y", rotate: 90, length: 26, anchor: "start", shape: stick, stroke: GREEN, strokeWidth: 1.8})
  ]
}), LG.left, LG.top);
label("Φ<sub>1</sub>", 628, 1300, {size: 19, family: SERIF, bold: true, color: "#9a9a9a", anchor: "start"});
label("Φ<sub>0</sub>", 628, 1324, {size: 19, family: SERIF, bold: true, color: "#9a9a9a", anchor: "start"});
</script>
</body>
</html>
